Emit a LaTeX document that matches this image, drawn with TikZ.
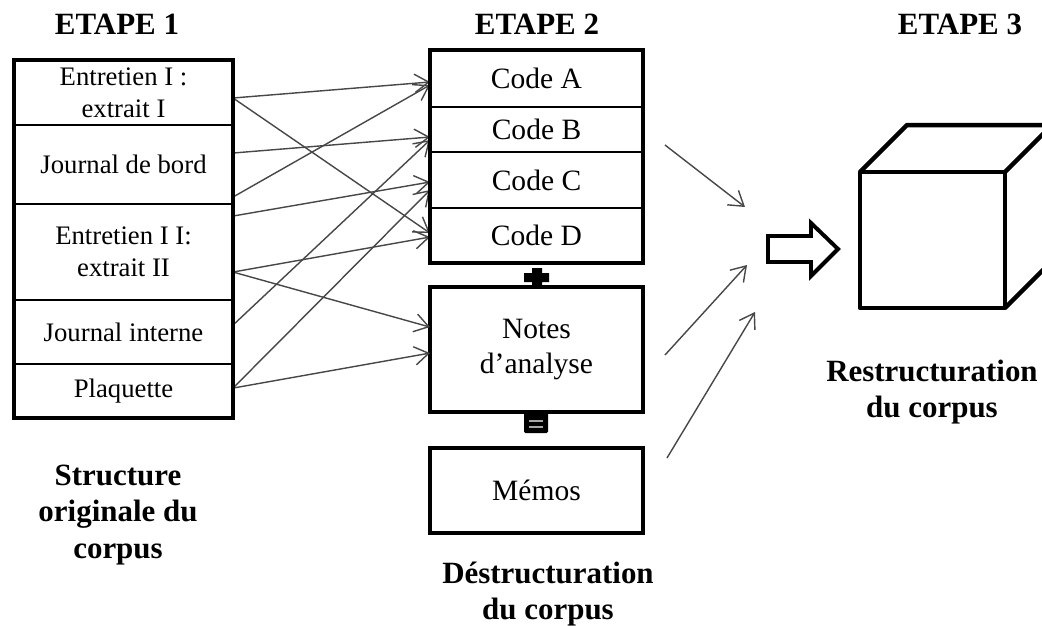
\documentclass[tikz,border=0pt]{standalone}
\usepackage{fontspec}
\setmainfont{Liberation Serif}
\usetikzlibrary{positioning,calc,arrows.meta}

\tikzset{
  cell/.style={draw, rectangle, line width=1.4pt, outer sep=0pt, inner sep=0pt, align=center},
  srccell/.style={cell, minimum width=5.475cm, font=\fontsize{19}{23}\selectfont},
  codecell/.style={cell, minimum width=5.325cm, font=\fontsize{21}{25}\selectfont},
  bigbox/.style={codecell, line width=2.8pt},
  boxframe/.style={line width=2.8pt},
  steptitle/.style={font=\bfseries\fontsize{22}{26}\selectfont, align=center},
  conn/.style={draw=black!72, line width=1pt, -{Straight Barb[length=10pt,width=13pt]}},
  cubeline/.style={line width=3.2pt, line join=round}
}

\begin{document}
\begin{tikzpicture}[x=0.025cm, y=-0.025cm]
    \useasboundingbox (0,0) rectangle (1042,626);

    % etape 1 : the original corpus
    \node[srccell, minimum height=1.625cm] (e1) at (123.5,92.5) {Entretien I :\\extrait I};
    \node[srccell, minimum height=1.975cm, below=0pt of e1] (jb) {Journal de bord};
    \node[srccell, minimum height=2.4cm, below=0pt of jb] (e2) {Entretien I I:\\extrait II};
    \node[srccell, minimum height=1.6cm, below=0pt of e2] (ji) {Journal interne};
    \node[srccell, minimum height=1.35cm, below=0pt of ji] (pl) {Plaquette};

    % etape 2 : codes, notes, memos
    \node[codecell, minimum height=1.425cm] (ca) at (536.5,78.5) {Code A};
    \node[codecell, minimum height=1.125cm, below=0pt of ca] (cb) {Code B};
    \node[codecell, minimum height=1.4cm, below=0pt of cb] (cc) {Code C};
    \node[codecell, minimum height=1.375cm, below=0pt of cc] (cd) {Code D};
    \node[bigbox, minimum height=3.125cm, below=0.6cm of cd] (notes) {Notes\\d’analyse};
    \node[bigbox, minimum height=2.125cm, below=0.9cm of notes] (memos) {Mémos};

    % links from the sources to the codes
    \foreach \src/\ds/\dst/\dd in {e1/5.5/ca/3.5, e1/5.5/cd/-2.5, jb/-11.5/cb/7.5, jb/32.5/ca/6.5,
        e2/-36/cc/2, e2/20/cd/1.5, e2/20/notes/-22.5, ji/-7/cb/10.5, pl/-3/cc/10, pl/-3/notes/3.5}
        \draw[conn] ($(\src.east)+(0,\ds)$) -- ($(\dst.west)+(0,\dd)$);

    \draw[boxframe] (e1.north west) rectangle (pl.south east); % column 1
    \draw[boxframe] (ca.north west) rectangle (cd.south east); % codes

    % plus and equals signs
    \fill (532,268) -- (542,268) -- (542,273) -- (549,273) -- (549,282) -- (542,282) -- (542,287)
        -- (532,287) -- (532,282) -- (524,282) -- (524,273) -- (532,273) -- cycle;
    \fill[rounded corners=1pt] (524,412) rectangle (548,433);
    \draw[gray!70, line width=1.4pt] (529,421) -- (543,421) (529,427) -- (543,427);

    % arrows towards the restructuring
    \coordinate (s1) at (665,145); \coordinate (h1) at (745,207);
    \coordinate (s2) at (665,355); \coordinate (h2) at (747,265);
    \coordinate (s3) at (667,458); \coordinate (h3) at (755,312);
    \draw[conn] (s1) -- (h1);
    \draw[conn] (s2) -- (h2);
    \draw[conn] (s3) -- (h3);

    % hollow arrow
    \draw[boxframe] (768,236) -- (811,236) -- (811,223) -- (838,249) -- (811,276) -- (811,262) -- (768,262) -- cycle;

    % etape 3 : the cube
    \draw[cubeline] (860,172) rectangle (1005,308); % front face
    \draw[cubeline] (860,172) -- (907,125) -- (1052,125) -- (1005,172); % top face
    \draw[cubeline] (1052,125) -- (1052,261) -- (1005,308); % right face

    % titles and captions
    \node[steptitle] (t1) at (117,24) {ETAPE 1};
    \node[steptitle] (t2) at (537,24) {ETAPE 2};
    \node[steptitle] (t3) at (960,24) {ETAPE 3};
    \node[steptitle] (lab1) at (118,515) {Structure\\originale du\\corpus};
    \node[steptitle] (lab2) at (548,594) {Déstructuration\\du corpus};
    \node[steptitle] (lab3) at (932,392) {Restructuration\\du corpus};
\end{tikzpicture}
\end{document}
